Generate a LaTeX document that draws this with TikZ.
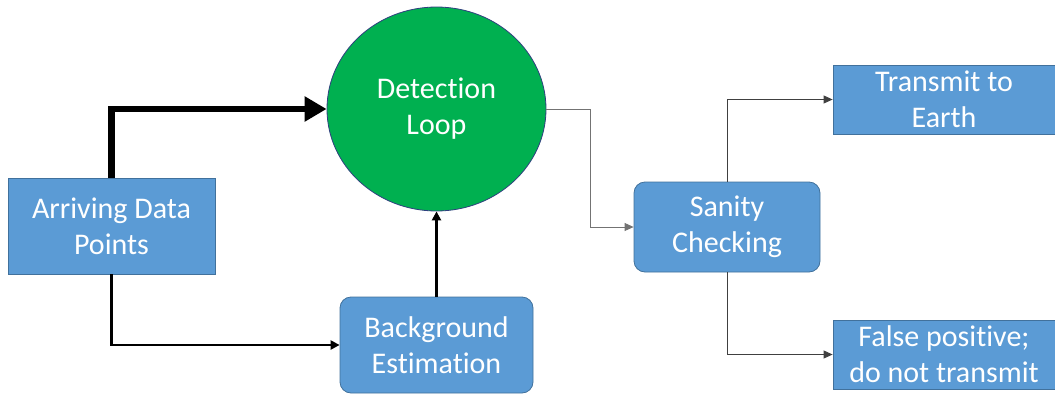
\documentclass[tikz,border=0pt]{standalone}
\usepackage{fontspec}
\setmainfont[Ligatures=NoCommon]{Carlito}
\usetikzlibrary{shapes.geometric,arrows.meta}
\definecolor{boxblue}{HTML}{5B9BD5}
\definecolor{boxedge}{HTML}{41719C}
\definecolor{loopgreen}{HTML}{00B050}
\definecolor{loopedge}{HTML}{2F3F7F}
\tikzset{
  lbl/.style={text=white, align=center, font=\fontsize{30}{36}\selectfont, inner sep=0pt},
  sqbox/.style={lbl, draw=boxedge, fill=boxblue, line width=0.8pt},
  rbox/.style={sqbox, rounded corners=11pt},
  loopnode/.style={lbl, ellipse, draw=loopedge, fill=loopgreen, line width=0.8pt},
  bigarrow/.style={line width=6.5pt, -{Triangle[length=22pt,width=24pt]}},
  midarrow/.style={line width=2.8pt, -{Triangle[length=9pt,width=9pt]}},
  thinarrow/.style={line width=0.8pt, draw=black!75, -{Triangle[length=9pt,width=8pt]}}
}
\begin{document}
\begin{tikzpicture}[x=1pt,y=-1pt]
\useasboundingbox (0,0) rectangle (1055,394);
\node[sqbox, minimum width=207pt, minimum height=96pt] (arr) at (111.5,226) {Arriving Data\\Points};
\node[loopnode, minimum width=219pt, minimum height=204pt] (det) at (436.5,109) {Detection\\Loop};
\node[rbox, minimum width=193pt, minimum height=96pt] (bg) at (436.5,345) {Background\\Estimation};
\node[rbox, minimum width=186pt, minimum height=90pt] (san) at (727,227) {Sanity\\Checking};
\node[sqbox, minimum width=222pt, minimum height=69pt] (tr) at (944,99.5) {Transmit to\\Earth};
\node[sqbox, minimum width=222pt, minimum height=69pt] (fp) at (944,354.5) {False positive;\\do not transmit};
\draw[bigarrow] (arr.north) |- (det.west);
\draw[midarrow] (arr.south) |- (bg.west);
\draw[midarrow] (bg.north) -- (det.south);
\coordinate (bend) at (590,109);
\draw[thinarrow, draw=black!55] (det.east) -- (bend) |- (san.west);
\draw[thinarrow] (san.north) |- (tr.west);
\draw[thinarrow] (san.south) |- (fp.west);
\end{tikzpicture}
\end{document}
